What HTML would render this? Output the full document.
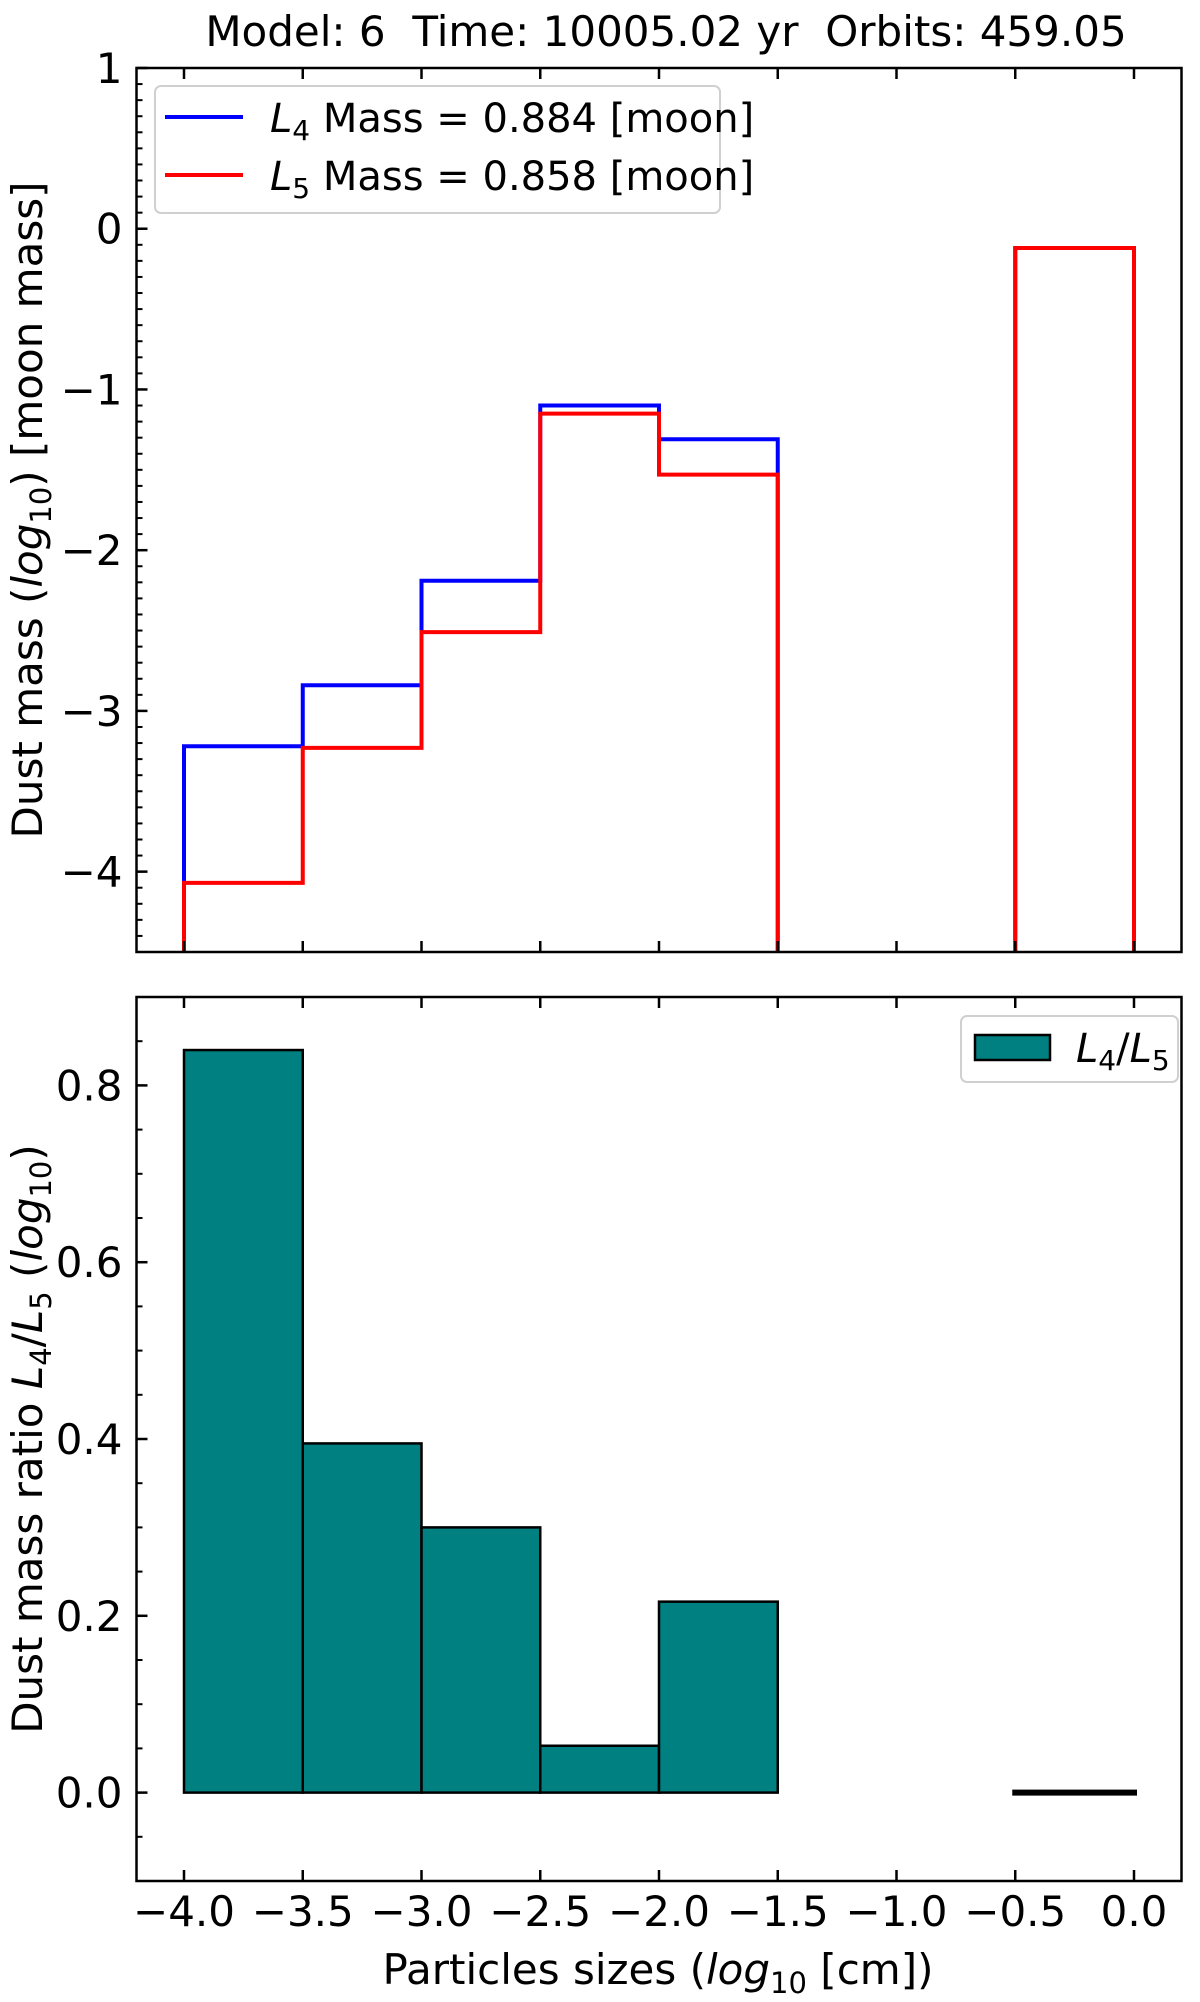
<!DOCTYPE html>
<html><head><meta charset="utf-8"><style>
html,body{margin:0;padding:0;background:#fff;}
svg{display:block;font-family:"DejaVu Sans","Liberation Sans",sans-serif;}
</style></head><body>
<svg id="fig" width="1200" height="2002" viewBox="0 0 1200 2002" xmlns="http://www.w3.org/2000/svg">
<rect x="0" y="0" width="1200" height="2002" fill="#fff"/>
<text x="666" y="46" font-size="42" text-anchor="middle">Model: 6&#160;&#160;Time: 10005.02 yr&#160;&#160;Orbits: 459.05</text>
<g id="topPanel"></g>
<g id="botPanel"></g>
<text transform="translate(42,510) rotate(-90)" font-size="42" text-anchor="middle">Dust mass (<tspan font-style="italic">log</tspan><tspan font-size="29" dy="9">10</tspan><tspan dy="-9">) [moon mass]</tspan></text>
<text transform="translate(42,1439) rotate(-90)" font-size="42" text-anchor="middle">Dust mass ratio <tspan font-style="italic">L</tspan><tspan font-size="29" dy="9">4</tspan><tspan dy="-9">/</tspan><tspan font-style="italic">L</tspan><tspan font-size="29" dy="9">5</tspan><tspan dy="-9"> (</tspan><tspan font-style="italic">log</tspan><tspan font-size="29" dy="9">10</tspan><tspan dy="-9">)</tspan></text>
<text x="658" y="1984" font-size="42" text-anchor="middle">Particles sizes (<tspan font-style="italic">log</tspan><tspan font-size="29" dy="9">10</tspan><tspan dy="-9"> [cm])</tspan></text>
</svg>
<script>
const binEdges = [-4.0,-3.5,-3.0,-2.5,-2.0,-1.5,-1.0,-0.5,0.0];
const l4Values = [-3.22,-2.84,-2.19,-1.10,-1.31,null,null,-0.12];
const l5Values = [-4.07,-3.23,-2.51,-1.15,-1.53,null,null,-0.12];
const ratioValues = [0.84,0.395,0.30,0.053,0.216,null,null,0.0];
const xTicks = [-4.0,-3.5,-3.0,-2.5,-2.0,-1.5,-1.0,-0.5,0.0];
const xTickLabels = ["\u22124.0","\u22123.5","\u22123.0","\u22122.5","\u22122.0","\u22121.5","\u22121.0","\u22120.5","0.0"];
const topYTicks = [1,0,-1,-2,-3,-4];
const topYTickLabels = ["1","0","\u22121","\u22122","\u22123","\u22124"];
const botYTicks = [0.0,0.2,0.4,0.6,0.8];
const botYTickLabels = ["0.0","0.2","0.4","0.6","0.8"];

const NS="http://www.w3.org/2000/svg";
const AX={x0:136.5,x1:1181.5,xmin:-4.2,xmax:0.2};
const TOPP={y0:68,y1:952,ymin:-4.5,ymax:1};
const BOTP={y0:997,y1:1881,ymin:-0.1,ymax:0.9};
function sx(v){return AX.x0+(v-AX.xmin)/(AX.xmax-AX.xmin)*(AX.x1-AX.x0);}
function sy(p,v){return p.y1-(v-p.ymin)/(p.ymax-p.ymin)*(p.y1-p.y0);}
function mk(tag,attrs,parent){const e=document.createElementNS(NS,tag);for(const k in attrs)e.setAttribute(k,attrs[k]);parent.appendChild(e);return e;}

function axes(g,p,yt,ytl,minorStep,prefix){
  xTicks.forEach((t,i)=>{
    const x=sx(t);
    const a=mk('line',{x1:x,x2:x,y1:p.y1,y2:p.y1-11,stroke:'#000','stroke-width':2.5},g);
    
    
    const b=mk('line',{x1:x,x2:x,y1:p.y0,y2:p.y0+11,stroke:'#000','stroke-width':2.5},g);
    
    
  });
  const n=Math.round((p.ymax-p.ymin)/minorStep);
  for(let k=0;k<=n;k++){
    const v=p.ymin+k*minorStep;
    const y=sy(p,v);
    const m=mk('line',{x1:AX.x0,x2:AX.x0+6,y1:y,y2:y,stroke:'#000','stroke-width':2},g);
    
    
  }
  yt.forEach((t,i)=>{
    const y=sy(p,t);
    const l=mk('line',{x1:AX.x0,x2:AX.x0+11,y1:y,y2:y,stroke:'#000','stroke-width':2.5},g);
    
    
    const tx=mk('text',{x:AX.x0-14,y:y+15,'font-size':42,'text-anchor':'end'},g);
    tx.textContent=ytl[i];
    
    
  });
  const r=mk('rect',{x:AX.x0,y:p.y0,width:AX.x1-AX.x0,height:p.y1-p.y0,fill:'none',stroke:'#000','stroke-width':2.5},g);
  
  
}

function stepPath(vals,p){
  let d='',inRun=false;const bottom=p.y1;
  for(let i=0;i<vals.length;i++){
    const v=vals[i];
    if(v===null){ if(inRun){d+=` L${sx(binEdges[i])},${bottom}`;inRun=false;} continue;}
    const xa=sx(binEdges[i]),xb=sx(binEdges[i+1]),y=sy(p,v);
    if(!inRun){d+=` M${xa},${bottom} L${xa},${y}`;inRun=true;} else d+=` L${xa},${y}`;
    d+=` L${xb},${y}`;
  }
  if(inRun)d+=` L${sx(binEdges[vals.length])},${bottom}`;
  return d;
}

const topG=document.getElementById('topPanel');


const clipT=mk('clipPath',{id:'ct'},topG);
mk('rect',{x:AX.x0,y:TOPP.y0,width:AX.x1-AX.x0,height:TOPP.y1-TOPP.y0},clipT);
const pb=mk('path',{d:stepPath(l4Values,TOPP),fill:'none',stroke:'#0000ff','stroke-width':4,'clip-path':'url(#ct)'},topG);


const pr=mk('path',{d:stepPath(l5Values,TOPP),fill:'none',stroke:'#ff0000','stroke-width':4,'clip-path':'url(#ct)'},topG);


axes(topG,TOPP,topYTicks,topYTickLabels,0.1,'top');

const lg=mk('g',{},topG);


mk('rect',{x:155,y:86,width:565,height:127,rx:6,fill:'#fff','fill-opacity':0.8,stroke:'#d0d0d0','stroke-width':2},lg);
mk('line',{x1:165,x2:243,y1:117,y2:117,stroke:'#0000ff','stroke-width':4},lg);
mk('line',{x1:165,x2:243,y1:175,y2:175,stroke:'#ff0000','stroke-width':4},lg);
const t1=mk('text',{x:270,y:132,'font-size':40},lg);
t1.innerHTML='<tspan font-style="italic">L</tspan><tspan font-size="28" dy="8">4</tspan><tspan dy="-8"> Mass = 0.884 [moon]</tspan>';


const t2=mk('text',{x:270,y:190,'font-size':40},lg);
t2.innerHTML='<tspan font-style="italic">L</tspan><tspan font-size="28" dy="8">5</tspan><tspan dy="-8"> Mass = 0.858 [moon]</tspan>';



const botG=document.getElementById('botPanel');


ratioValues.forEach((v,i)=>{
  if(v===null)return;
  const xa=sx(binEdges[i]),xb=sx(binEdges[i+1]);
  const y0=sy(BOTP,0),y=sy(BOTP,v);
  const r=mk('rect',{x:xa,y:Math.min(y,y0),width:xb-xa,height:Math.max(Math.abs(y0-y),0.01),fill:'#008080',stroke:'#000','stroke-width':v===0?6:2.5},botG);
  
  
});
axes(botG,BOTP,botYTicks,botYTickLabels,0.05,'bottom');
xTicks.forEach((t,i)=>{
  const tx=mk('text',{x:sx(t),y:1926,'font-size':42,'text-anchor':'middle'},botG);
  tx.textContent=xTickLabels[i];
  
  
});
const lg2=mk('g',{},botG);


mk('rect',{x:961,y:1016,width:217,height:66,rx:6,fill:'#fff','fill-opacity':0.8,stroke:'#d0d0d0','stroke-width':2},lg2);
mk('rect',{x:975,y:1035,width:75,height:25,fill:'#008080',stroke:'#000','stroke-width':2.5},lg2);
const t3=mk('text',{x:1076,y:1062,'font-size':40},lg2);
t3.innerHTML='<tspan font-style="italic">L</tspan><tspan font-size="28" dy="8">4</tspan><tspan dy="-8">/</tspan><tspan font-style="italic">L</tspan><tspan font-size="28" dy="8">5</tspan>';


</script>
</body></html>
